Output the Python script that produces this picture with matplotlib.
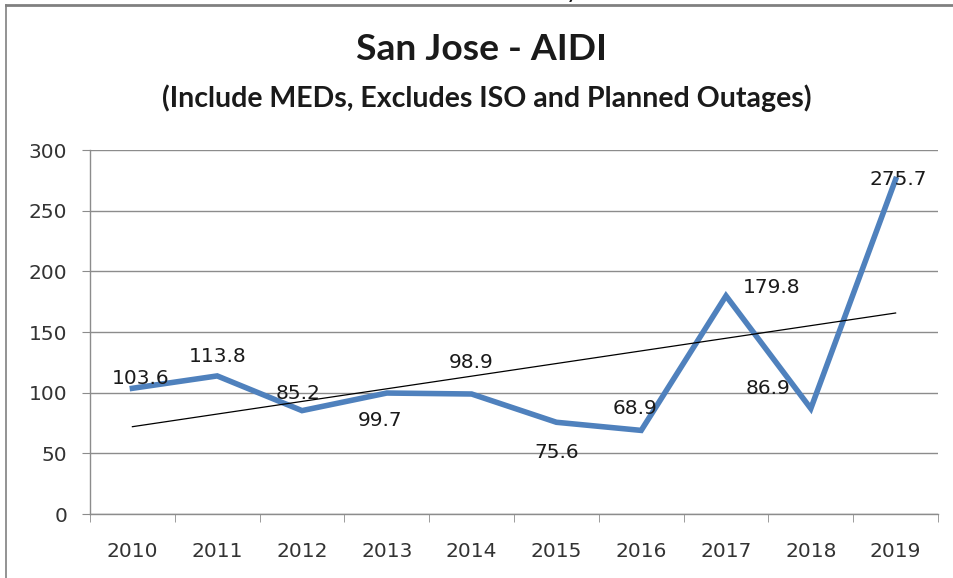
import matplotlib
matplotlib.use("Agg")
import matplotlib.pyplot as plt
import numpy as np
from matplotlib.lines import Line2D

years = ["2010", "2011", "2012", "2013", "2014", "2015", "2016", "2017", "2018", "2019"]
aidi = [103.6, 113.8, 85.2, 99.7, 98.9, 75.6, 68.9, 179.8, 86.9, 275.7]
yticks = [0, 50, 100, 150, 200, 250, 300]

# label offsets in pixels (dx, dy) relative to each point
label_offsets = [(8, 10), (0, 19), (-4, 17), (-7, -27), (0, 32), (0, -30),
                 (-6, 22), (46, 8), (-43, 20), (3, 0)]

W, H = 954, 578
fig = plt.figure(figsize=(W / 100, H / 100), dpi=100)
fig.patch.set_facecolor("white")
ax = fig.add_axes([90 / W, 1 - 514 / H, (938 - 90) / W, (514 - 150) / H])

x = np.arange(len(years))
ax.plot(x, aidi, color="#4F81BD", lw=4.0, solid_joinstyle="miter", zorder=3)

# linear trend line
coef = np.polyfit(x, aidi, 1)
ax.plot(x, np.polyval(coef, x), color="black", lw=0.9, zorder=4)

for xi, v, (dx, dy) in zip(x, aidi, label_offsets):
    ax.annotate(f"{v:.1f}", (xi, v), xytext=(dx, dy), textcoords="offset pixels",
                ha="center", va="center", fontsize=14.5, color="#1a1a1a",
                family="DejaVu Sans", zorder=5)

ax.set_xlim(-0.5, len(years) - 0.5)
ax.set_ylim(0, 300)
ax.set_yticks(yticks)
ax.set_yticklabels([str(t) for t in yticks])
ax.set_xticks(x)
ax.set_xticklabels(years)
ax.set_xticks(np.arange(-0.5, len(years), 1.0), minor=True)

ax.grid(axis="y", color="#8c8c8c", lw=1.0)
ax.set_axisbelow(True)
for s in ["top", "right"]:
    ax.spines[s].set_visible(False)
for s in ["left", "bottom"]:
    ax.spines[s].set_color("#8c8c8c")
    ax.spines[s].set_linewidth(1.0)

ax.tick_params(axis="x", which="major", length=0, pad=20, labelsize=14.5, labelcolor="#333333")
ax.tick_params(axis="x", which="minor", length=6, color="#8c8c8c", direction="out")
ax.tick_params(axis="y", length=6, color="#8c8c8c", pad=10.5, labelsize=14.5, labelcolor="#333333")

fig.text(482 / W, 1 - 50 / H, "San Jose - AIDI", ha="center", va="center",
         fontsize=26.8, fontweight="bold", family="Lato", color="#1a1a1a")
fig.text(487 / W, 1 - 98 / H, "(Include MEDs, Excludes ISO and Planned Outages)",
         ha="center", va="center", fontsize=20.5, fontweight="bold", family="Lato",
         color="#1a1a1a")

# cut-off text fragment above the chart (only the descender is visible)
fig.text(572 / W, 1 + 1.5 / H, "y", ha="center", va="baseline",
         fontsize=18, family="Lato", color="#1a1a1a")

# chart border (top and left edges visible)
fig.add_artist(Line2D([6 / W, 1], [1 - 5 / H, 1 - 5 / H], transform=fig.transFigure,
                      color="#808080", lw=2))
fig.add_artist(Line2D([6 / W, 6 / W], [0, 1 - 5 / H], transform=fig.transFigure,
                      color="#808080", lw=1.2))

fig.savefig("out.png", dpi=100)
